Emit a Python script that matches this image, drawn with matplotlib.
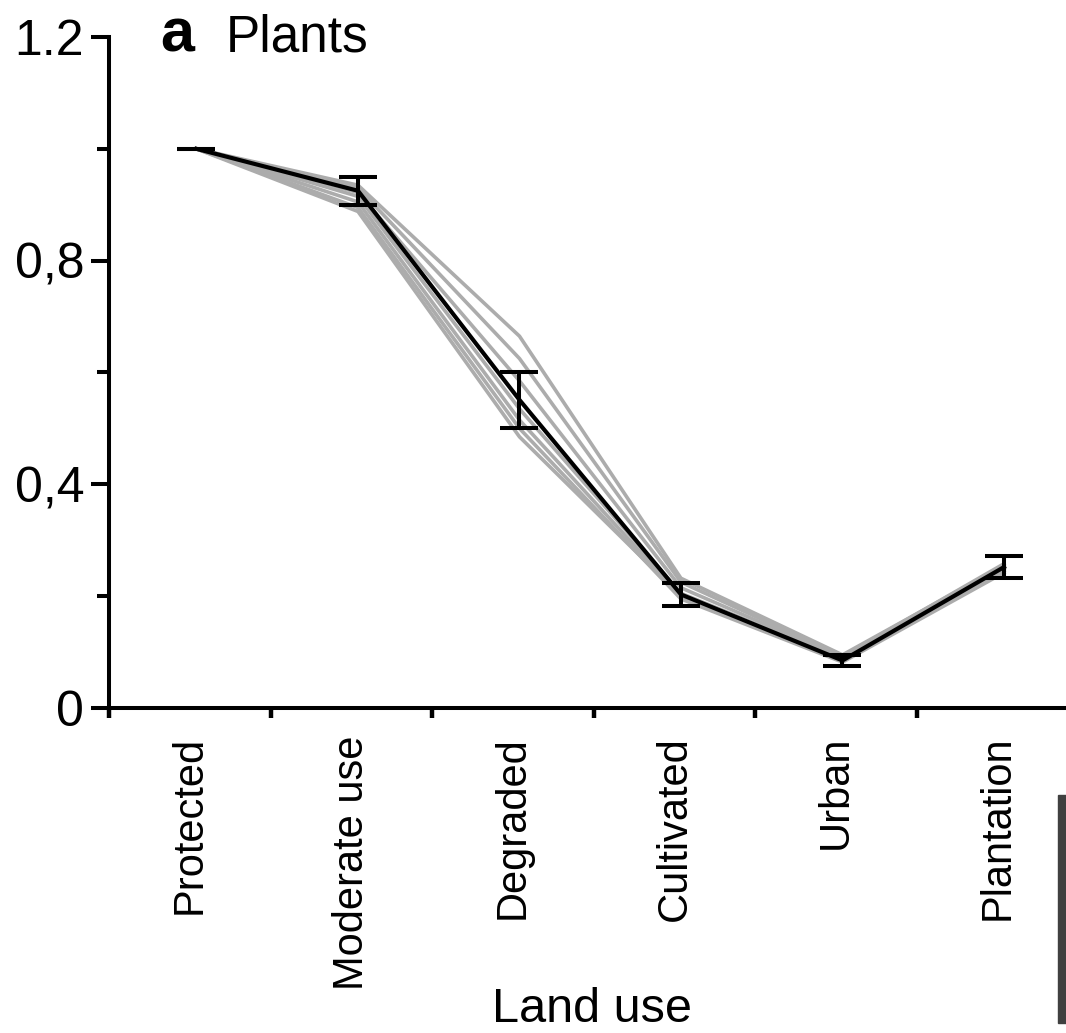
import matplotlib
matplotlib.use('Agg')
import matplotlib.pyplot as plt
import numpy as np
from matplotlib.patches import Rectangle

plt.rcParams['font.family'] = ['Liberation Sans', 'DejaVu Sans']

# ---- data -------------------------------------------------------------
categories = ['Protected', 'Moderate use', 'Degraded', 'Cultivated', 'Urban', 'Plantation']
mean_values = [1.0, 0.925, 0.551, 0.203, 0.085, 0.252]
error_values = [0.0, 0.025, 0.050, 0.020, 0.009, 0.020]

gray_series_1 = [1.0, 0.935, 0.665, 0.232, 0.095, 0.255]
gray_series_2 = [1.0, 0.930, 0.625, 0.225, 0.092, 0.258]
gray_series_3 = [1.0, 0.922, 0.585, 0.215, 0.090, 0.250]
gray_series_4 = [1.0, 0.915, 0.535, 0.205, 0.088, 0.248]
gray_series_5 = [1.0, 0.905, 0.515, 0.200, 0.085, 0.245]
gray_series_6 = [1.0, 0.895, 0.500, 0.195, 0.082, 0.242]
gray_series_7 = [1.0, 0.888, 0.485, 0.200, 0.090, 0.250]
gray_series = [gray_series_1, gray_series_2, gray_series_3, gray_series_4,
               gray_series_5, gray_series_6, gray_series_7]

y_ticks = [0, 0.4, 0.8, 1.2]
y_tick_labels = ['0', '0,4', '0,8', '1.2']
y_minor_ticks = [0.2, 0.6, 1.0]

# ---- figure -----------------------------------------------------------
W, H = 1066, 1033
fig = plt.figure(figsize=(W / 100, H / 100), dpi=100)
left_px, bottom_px, top_px = 109.25, 708, 37
ax = fig.add_axes([left_px / W, (H - bottom_px) / H, 1 - left_px / W, (bottom_px - top_px) / H])

x_cat = np.arange(len(categories))
x_data = x_cat + 0.04

for s in gray_series:
    ax.plot(x_data, s, color='#acacac', lw=2.6, zorder=2, solid_joinstyle='round')
ax.plot(x_data, mean_values, color='black', lw=3.0, zorder=3)
ax.errorbar(x_data, mean_values, yerr=error_values, fmt='none', ecolor='black',
            elinewidth=2.9, capsize=14, capthick=2.9, zorder=4)

ax.set_xlim(-0.5, 5.424)
ax.set_ylim(0, 1.2)

for side in ['top', 'right']:
    ax.spines[side].set_visible(False)
for side in ['left', 'bottom']:
    ax.spines[side].set_linewidth(2.9)

ax.set_yticks(y_ticks)
ax.set_yticklabels(y_tick_labels)
ax.set_yticks(y_minor_ticks, minor=True)
ax.tick_params(axis='y', which='major', length=13, width=2.9, pad=5, labelsize=36)
ax.tick_params(axis='y', which='minor', length=8.6, width=2.9)

ax.set_xticks(x_cat)
ax.set_xticklabels(categories, rotation=90)
ax.set_xticks(x_cat - 0.5, minor=True)
ax.tick_params(axis='x', which='major', length=0, pad=20, labelsize=30)
ax.tick_params(axis='x', which='minor', length=7, width=3.2)

fig.text(160 / W, (H - 52) / H, 'a', fontsize=44, fontweight='bold', va='baseline')
fig.text(226 / W, (H - 52) / H, 'Plants', fontsize=37, va='baseline')
fig.text(592 / W, 11 / H, 'Land use', fontsize=35, ha='center', va='baseline')

fig.patches.append(Rectangle((1058 / W, (H - 1023) / H), 8 / W, 228 / H,
                             transform=fig.transFigure, color='#404040', zorder=5))

fig.savefig('out.png', dpi=100)
